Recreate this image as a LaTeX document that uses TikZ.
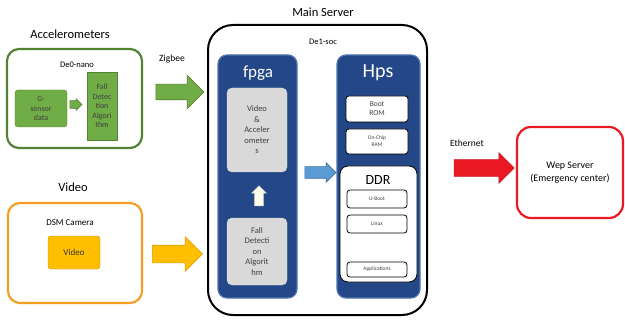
\documentclass[tikz,border=0pt]{standalone}
\usepackage{fontspec}
\setmainfont{Carlito}
\usetikzlibrary{shapes.arrows}

\definecolor{grnline}{RGB}{84,130,53}
\definecolor{grnfill}{RGB}{112,173,71}
\definecolor{orgline}{RGB}{245,158,35}
\definecolor{orgfill}{RGB}{255,190,0}
\definecolor{panelblue}{RGB}{36,72,135}
\definecolor{paneledge}{RGB}{80,115,170}
\definecolor{arrblue}{RGB}{91,155,213}
\definecolor{boxgray}{RGB}{217,217,217}
\definecolor{redline}{RGB}{235,25,35}

\begin{document}
\begin{tikzpicture}[x=1pt,y=-1pt,
    title/.style={font=\fontsize{12.5}{14}\selectfont},
    label/.style={font=\fontsize{8.5}{10}\selectfont},
    frame/.style={draw,line width=2.2pt,minimum width=#1},
    panel/.style={draw=paneledge,line width=1.2pt,fill=panelblue,rounded corners=9pt,minimum width=#1,minimum height=243},
    graybox/.style={draw=white!85!black,fill=boxgray,rounded corners=5pt,minimum width=60,align=center,inner sep=0pt,
      font=\fontsize{8.5}{10.5}\selectfont,text=black!75},
    membox/.style={draw,line width=0.8pt,fill=white,rounded corners=3pt,minimum width=#1,align=center,inner sep=0pt,
      text=black!75},
    blockarrow/.style={single arrow,inner xsep=0pt,inner ysep=#1,line width=0.6pt}]
    \useasboundingbox (0,0) rectangle (625,321);
    % accelerometer side
    \node[title] (acctitle) at (70,34) {Accelerometers};
    \node[frame=135,draw=grnline,rounded corners=12pt,minimum height=99] (nano) at (74.5,98.5) {};
    \node[label] (nanolabel) at (77,65) {De0-nano};
    \node[draw=grnline,fill=grnfill,rounded corners=3pt,minimum width=52,minimum height=37,align=center,inner sep=0pt,
      font=\fontsize{8}{9.5}\selectfont,text=black!75] (gsensor) at (41,108.5) {G-\\sensor\\data};
    \node[blockarrow=3.5pt,draw=grnline,fill=grnfill,minimum height=12,single arrow head extend=2pt]
      (garrow) at (74,104.5) {};
    \node[draw=grnline,fill=grnfill,minimum width=30,minimum height=68,align=center,inner sep=0pt,
      font=\fontsize{8}{9.5}\selectfont,text=black!75] (nanofall) at (102,106) {Fall\\Detec\\tion\\Algori\\thm};
    \node[label,font=\fontsize{9.5}{11}\selectfont] (zigbee) at (172,59) {Zigbee};
    \node[blockarrow=7.5pt,draw=grnline,fill=grnfill,minimum height=48,single arrow head extend=9pt]
      (zigarrow) at (176,92) {};
    % video side
    \node[title] (vidtitle) at (73,187) {Video};
    \node[frame=134,draw=orgline,rounded corners=12pt,minimum height=100] (cam) at (75,253) {};
    \node[label,font=\fontsize{9}{10}\selectfont] (camlabel) at (70,223) {DSM Camera};
    \node[draw=orgfill!75!black,fill=orgfill,rounded corners=3pt,minimum width=52,minimum height=33,
      font=\fontsize{9}{10}\selectfont,text=black!80] (camvideo) at (74,252.5) {Video};
    \node[blockarrow=8.5pt,draw=orgfill!85!black,fill=orgfill,minimum height=50,single arrow head extend=8.5pt]
      (vidarrow) at (173,254) {};
    % main server
    \node[title] (maintitle) at (323,12) {Main Server};
    \node[frame=219,draw=black,line width=2pt,rounded corners=25pt,minimum height=290] (server) at (317.5,170) {};
    \node[label] (soclabel) at (323,42) {De1-soc};
    \node[panel=79] (fpga) at (257.5,176.5) {};
    \node[text=white,font=\fontsize{17}{18}\selectfont] (fpgalabel) at (258,73) {fpga};
    \node[graybox,minimum height=84] (sensors) at (257,130) {Video\\\&\\Acceler\\ometer\\s};
    \node[blockarrow=4pt,inner xsep=4pt,draw=black!15,fill=yellow!8!white,minimum height=20,single arrow head extend=3pt,
      shape border rotate=90] (uparrow) at (259,198) {};
    \node[graybox,minimum height=67] (fpgafall) at (257,251.5) {Fall\\Detecti\\on\\Algorit\\hm};
    \node[blockarrow=5.5pt,draw=arrblue!70!black,fill=arrblue,minimum height=31,single arrow head extend=4pt]
      (bluearrow) at (317.5,172.5) {};
    \node[panel=83] (hps) at (378.5,176.5) {};
    \node[text=white,font=\fontsize{20}{22}\selectfont] (hpslabel) at (378,73) {Hps};
    \node[membox=62,minimum height=26,font=\fontsize{7.5}{9}\selectfont] (bootrom) at (377,109) {Boot\\ROM};
    \node[membox=62,minimum height=25,font=\fontsize{5.5}{7}\selectfont] (onchip) at (377,141.5) {On-Chip\\RAM};
    \node[membox=77,minimum height=116,rounded corners=8pt] (ddr) at (378.5,224) {};
    \node[font=\fontsize{14}{16}\selectfont] (ddrlabel) at (378,180) {DDR};
    \node[membox=60,minimum height=18,font=\fontsize{5.5}{7}\selectfont] (uboot) at (377,199) {U-Boot};
    \node[membox=60,minimum height=18,font=\fontsize{5.5}{7}\selectfont] (linux) at (377,224) {Linux};
    \node[membox=60,minimum height=15,font=\fontsize{5.5}{7}\selectfont] (apps) at (377,269.5) {Applications};
    % web server
    \node[label,font=\fontsize{9.5}{11}\selectfont] (ethernet) at (467,143) {Ethernet};
    \node[blockarrow=8pt,draw=redline!85!black,fill=redline,minimum height=60,single arrow head extend=7pt]
      (redarrow) at (480,168) {};
    \node[frame=106,draw=redline,rounded corners=14pt,minimum height=91,align=center,
      font=\fontsize{10}{12.5}\selectfont] (webserver) at (570,172.5) {Wep Server\\(Emergency center)};
\end{tikzpicture}
\end{document}
